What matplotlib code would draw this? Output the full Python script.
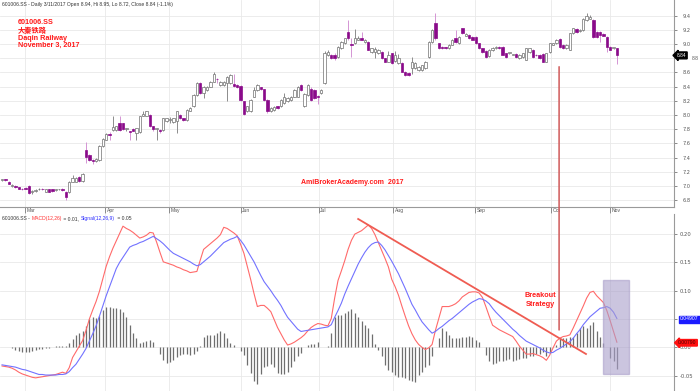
import numpy as np
import matplotlib
matplotlib.use('Agg')
import matplotlib.pyplot as plt
from matplotlib.patches import Rectangle, ConnectionPatch

# daily candles, 601006.SS
opens = [7.08, 7.09, 7.06, 7.00, 7.00, 6.98, 6.96, 6.97, 7.00, 6.91,
         6.93, 6.95, 6.96, 6.92, 6.95, 6.95, 6.94, 6.95, 6.96, 6.92,
         6.92, 7.06, 7.06, 7.13, 7.07, 7.50, 7.44, 7.36, 7.35, 7.36,
         7.56, 7.65, 7.73, 7.79, 7.79, 7.88, 7.88, 7.80, 7.77, 7.80,
         7.75, 7.76, 7.99, 7.99, 8.00, 7.84, 7.80, 7.79, 7.79, 7.91,
         7.93, 7.90, 7.91, 8.00, 7.95, 7.93, 8.06, 8.12, 8.28, 8.45,
         8.31, 8.35, 8.40, 8.47, 8.51, 8.42, 8.42, 8.45, 8.45, 8.43,
         8.42, 8.41, 8.19, 8.05, 8.05, 8.26, 8.35, 8.39, 8.36, 8.21,
         8.05, 8.07, 8.12, 8.12, 8.17, 8.19, 8.21, 8.26, 8.26, 8.42,
         8.12, 8.28, 8.37, 8.35, 8.27, 8.31, 8.45, 8.85, 8.85, 8.85,
         8.82, 8.94, 9.01, 9.17, 9.00, 9.02, 9.06, 9.09, 9.03, 9.03,
         8.89, 8.89, 8.87, 8.89, 8.80, 8.75, 8.87, 8.76, 8.73, 8.73,
         8.61, 8.59, 8.66, 8.66, 8.63, 8.63, 8.66, 8.82, 9.03, 9.29,
         9.01, 8.96, 8.95, 8.94, 8.99, 9.08, 9.01, 9.22, 9.12, 9.13,
         9.10, 9.10, 9.01, 8.94, 8.90, 8.83, 8.91, 8.94, 8.96, 8.96,
         8.87, 8.87, 8.85, 8.86, 8.80, 8.82, 8.78, 8.89, 8.92, 8.85,
         8.85, 8.86, 8.75, 8.89, 8.99, 9.01, 9.07, 8.99, 8.94, 8.92,
         9.15, 9.21, 9.18, 9.20, 9.34, 9.36, 9.34, 9.17, 9.17, 9.14,
         9.10, 8.96, 8.94, 8.94]
closes = [7.09, 7.08, 7.03, 7.01, 6.98, 6.96, 6.95, 6.96, 6.90, 6.93,
          6.94, 6.96, 6.95, 6.95, 6.92, 6.93, 6.94, 6.95, 6.94, 6.84,
          7.06, 7.11, 7.11, 7.07, 7.17, 7.41, 7.37, 7.35, 7.38, 7.56,
          7.66, 7.73, 7.72, 7.83, 7.84, 7.79, 7.80, 7.80, 7.76, 7.78,
          7.81, 7.98, 8.02, 8.05, 7.84, 7.80, 7.80, 7.78, 7.95, 7.95,
          7.94, 7.95, 8.05, 7.95, 7.93, 8.07, 8.10, 8.28, 8.45, 8.31,
          8.40, 8.40, 8.47, 8.58, 8.50, 8.47, 8.47, 8.54, 8.56, 8.41,
          8.39, 8.21, 8.02, 8.12, 8.21, 8.35, 8.42, 8.36, 8.21, 8.05,
          8.10, 8.11, 8.10, 8.21, 8.26, 8.24, 8.26, 8.35, 8.40, 8.35,
          8.30, 8.42, 8.21, 8.24, 8.26, 8.35, 8.87, 8.89, 8.80, 8.80,
          8.96, 9.03, 9.08, 9.08, 8.99, 9.08, 9.09, 9.06, 9.06, 8.92,
          8.94, 8.93, 8.92, 8.80, 8.75, 8.85, 8.73, 8.85, 8.80, 8.61,
          8.56, 8.56, 8.75, 8.73, 8.68, 8.70, 8.75, 9.03, 9.20, 9.08,
          8.94, 8.94, 8.94, 8.99, 9.06, 9.03, 9.10, 9.15, 9.14, 9.08,
          9.06, 9.01, 8.94, 8.89, 8.82, 8.92, 8.95, 8.96, 8.94, 8.85,
          8.82, 8.87, 8.85, 8.82, 8.85, 8.87, 8.94, 8.94, 8.82, 8.84,
          8.80, 8.75, 8.87, 9.01, 9.01, 9.06, 8.96, 8.94, 8.99, 9.15,
          9.22, 9.17, 9.20, 9.36, 9.39, 9.38, 9.10, 9.10, 9.13, 9.12,
          8.96, 8.92, 8.94, 8.84]
highs = [7.10, 7.10, 7.07, 7.03, 7.01, 6.99, 6.97, 6.98, 7.01, 6.94,
         6.95, 6.97, 6.97, 6.96, 6.96, 6.96, 6.95, 6.96, 6.97, 6.93,
         7.07, 7.15, 7.12, 7.14, 7.18, 7.62, 7.45, 7.38, 7.39, 7.57,
         7.67, 7.74, 7.76, 7.98, 7.85, 7.98, 7.89, 7.82, 7.78, 7.81,
         7.82, 7.99, 8.06, 8.06, 8.02, 7.85, 7.81, 7.80, 7.96, 7.96,
         7.97, 7.96, 8.06, 8.01, 7.96, 8.08, 8.11, 8.29, 8.46, 8.46,
         8.41, 8.41, 8.48, 8.60, 8.52, 8.48, 8.48, 8.55, 8.58, 8.58,
         8.43, 8.42, 8.20, 8.13, 8.22, 8.40, 8.44, 8.40, 8.37, 8.22,
         8.11, 8.12, 8.13, 8.22, 8.31, 8.25, 8.27, 8.36, 8.41, 8.43,
         8.31, 8.43, 8.40, 8.36, 8.28, 8.36, 8.90, 8.92, 8.86, 8.87,
         8.97, 9.04, 9.09, 9.34, 9.08, 9.21, 9.12, 9.17, 9.07, 9.04,
         8.95, 8.96, 8.93, 8.90, 8.81, 8.90, 8.88, 8.90, 8.86, 8.74,
         8.62, 8.60, 8.82, 8.74, 8.69, 8.71, 8.76, 9.04, 9.21, 9.44,
         9.02, 8.97, 8.96, 9.00, 9.07, 9.20, 9.11, 9.23, 9.16, 9.14,
         9.11, 9.11, 9.02, 8.95, 8.91, 8.93, 8.96, 8.97, 8.97, 8.97,
         8.88, 8.88, 8.86, 8.87, 8.86, 8.88, 8.95, 8.95, 8.93, 8.86,
         8.86, 8.87, 8.88, 9.02, 9.02, 9.07, 9.08, 9.00, 9.00, 9.16,
         9.23, 9.22, 9.21, 9.37, 9.44, 9.41, 9.35, 9.18, 9.18, 9.15,
         9.11, 8.97, 8.95, 8.95]
lows = [7.07, 7.07, 7.02, 6.99, 6.97, 6.95, 6.94, 6.95, 6.89, 6.88,
        6.92, 6.94, 6.94, 6.91, 6.91, 6.92, 6.93, 6.94, 6.93, 6.80,
        6.90, 7.05, 7.05, 7.06, 7.06, 7.32, 7.35, 7.31, 7.34, 7.35,
        7.55, 7.64, 7.65, 7.78, 7.78, 7.78, 7.79, 7.77, 7.65, 7.77,
        7.64, 7.75, 7.98, 7.98, 7.83, 7.78, 7.65, 7.74, 7.78, 7.90,
        7.88, 7.89, 7.75, 7.94, 7.92, 7.92, 8.05, 8.11, 8.27, 8.30,
        8.24, 8.34, 8.39, 8.46, 8.45, 8.41, 8.41, 8.20, 8.44, 8.40,
        8.38, 8.20, 8.00, 8.04, 8.04, 8.25, 8.34, 8.35, 8.20, 8.03,
        8.04, 8.06, 8.09, 8.11, 8.16, 8.18, 8.20, 8.25, 8.25, 8.34,
        8.11, 8.27, 8.20, 8.23, 8.15, 8.30, 8.44, 8.83, 8.79, 8.78,
        8.81, 8.93, 9.00, 9.05, 8.82, 9.00, 9.05, 9.05, 9.02, 8.91,
        8.88, 8.80, 8.86, 8.79, 8.74, 8.74, 8.72, 8.75, 8.72, 8.60,
        8.55, 8.55, 8.58, 8.65, 8.62, 8.62, 8.65, 8.81, 9.02, 9.06,
        8.93, 8.93, 8.93, 8.93, 8.98, 9.02, 9.00, 9.14, 9.11, 9.07,
        9.05, 9.00, 8.93, 8.88, 8.81, 8.82, 8.90, 8.93, 8.93, 8.84,
        8.81, 8.86, 8.84, 8.81, 8.79, 8.81, 8.77, 8.88, 8.81, 8.83,
        8.79, 8.74, 8.74, 8.88, 8.98, 9.00, 8.95, 8.93, 8.93, 8.91,
        9.14, 9.16, 9.17, 9.19, 9.33, 9.35, 9.09, 9.09, 9.03, 9.11,
        8.89, 8.91, 8.93, 8.72]

# MACD(12,26), signal(12,26,9), histogram
macd = [-0.033, -0.034, -0.035, -0.037, -0.040, -0.044, -0.047, -0.049, -0.051, -0.053,
        -0.054, -0.053, -0.052, -0.051, -0.050, -0.049, -0.048, -0.046, -0.044, -0.046,
        -0.036, -0.018, -0.008, 0.002, 0.012, 0.030, 0.050, 0.066, 0.081, 0.099,
        0.121, 0.143, 0.160, 0.175, 0.188, 0.201, 0.214, 0.210, 0.207, 0.203,
        0.198, 0.193, 0.195, 0.198, 0.203, 0.202, 0.186, 0.168, 0.151, 0.149,
        0.147, 0.145, 0.142, 0.140, 0.137, 0.135, 0.132, 0.133, 0.134, 0.154,
        0.173, 0.178, 0.183, 0.188, 0.193, 0.199, 0.212, 0.210, 0.206, 0.202,
        0.197, 0.182, 0.166, 0.143, 0.120, 0.095, 0.072, 0.074, 0.074, 0.069,
        0.063, 0.049, 0.035, 0.024, 0.013, 0.004, 0.006, 0.009, 0.013, 0.017,
        0.022, 0.029, 0.035, 0.039, 0.042, 0.041, 0.039, 0.038, 0.051, 0.087,
        0.118, 0.135, 0.153, 0.173, 0.189, 0.200, 0.203, 0.206, 0.211, 0.216,
        0.210, 0.199, 0.185, 0.171, 0.157, 0.142, 0.120, 0.107, 0.092, 0.073,
        0.055, 0.038, 0.024, 0.013, 0.005, 0.000, -0.004, -0.001, 0.005, 0.030,
        0.051, 0.072, 0.072, 0.072, 0.074, 0.077, 0.082, 0.089, 0.093, 0.097,
        0.098, 0.098, 0.096, 0.088, 0.072, 0.055, 0.039, 0.035, 0.031, 0.028,
        0.025, 0.022, 0.019, 0.011, 0.002, -0.005, -0.012, -0.012, -0.011, -0.013,
        -0.015, -0.018, -0.023, -0.014, -0.001, 0.011, 0.016, 0.019, 0.020, 0.022,
        0.034, 0.047, 0.060, 0.073, 0.087, 0.097, 0.099, 0.091, 0.085, 0.079,
        0.065, 0.047, 0.028, 0.009]
signal = [-0.031, -0.032, -0.033, -0.034, -0.035, -0.037, -0.039, -0.040, -0.042, -0.044,
          -0.046, -0.048, -0.048, -0.049, -0.049, -0.049, -0.049, -0.048, -0.048, -0.047,
          -0.043, -0.036, -0.030, -0.021, -0.012, -0.002, 0.011, 0.024, 0.038, 0.055,
          0.073, 0.091, 0.107, 0.123, 0.139, 0.150, 0.159, 0.168, 0.177, 0.180,
          0.182, 0.185, 0.187, 0.190, 0.193, 0.196, 0.192, 0.188, 0.183, 0.177,
          0.171, 0.166, 0.163, 0.160, 0.157, 0.154, 0.151, 0.147, 0.144, 0.146,
          0.151, 0.156, 0.161, 0.167, 0.173, 0.179, 0.185, 0.188, 0.191, 0.193,
          0.196, 0.189, 0.181, 0.171, 0.161, 0.151, 0.139, 0.127, 0.116, 0.108,
          0.100, 0.091, 0.083, 0.074, 0.063, 0.053, 0.046, 0.039, 0.032, 0.028,
          0.029, 0.030, 0.031, 0.032, 0.033, 0.034, 0.035, 0.036, 0.040, 0.053,
          0.065, 0.078, 0.094, 0.108, 0.121, 0.134, 0.147, 0.158, 0.168, 0.176,
          0.182, 0.185, 0.186, 0.180, 0.172, 0.162, 0.152, 0.141, 0.130, 0.117,
          0.104, 0.090, 0.076, 0.066, 0.055, 0.045, 0.038, 0.031, 0.025, 0.028,
          0.033, 0.037, 0.042, 0.047, 0.051, 0.056, 0.061, 0.066, 0.071, 0.076,
          0.080, 0.083, 0.086, 0.085, 0.082, 0.077, 0.069, 0.062, 0.056, 0.050,
          0.044, 0.038, 0.032, 0.027, 0.021, 0.016, 0.011, 0.008, 0.005, 0.002,
          -0.001, -0.005, -0.008, -0.010, -0.009, -0.005, -0.002, 0.002, 0.006, 0.010,
          0.016, 0.024, 0.031, 0.040, 0.047, 0.054, 0.059, 0.064, 0.069, 0.070,
          0.072, 0.069, 0.062, 0.051]
hist = [0.001, 0.001, 0.000, -0.001, -0.004, -0.007, -0.008, -0.008, -0.008, -0.007,
        -0.004, -0.003, -0.003, -0.002, -0.001, 0.001, 0.002, 0.002, 0.002, 0.002,
        0.008, 0.015, 0.022, 0.026, 0.028, 0.038, 0.050, 0.054, 0.052, 0.056,
        0.066, 0.071, 0.071, 0.069, 0.070, 0.067, 0.063, 0.053, 0.040, 0.025,
        0.017, 0.008, 0.010, 0.012, 0.013, 0.010, 0.000, -0.011, -0.023, -0.028,
        -0.026, -0.022, -0.018, -0.014, -0.011, -0.012, -0.013, -0.012, -0.007, 0.003,
        0.018, 0.022, 0.022, 0.022, 0.025, 0.028, 0.026, 0.016, 0.007, 0.004,
        0.000, -0.007, -0.014, -0.031, -0.046, -0.060, -0.064, -0.048, -0.034, -0.033,
        -0.030, -0.034, -0.045, -0.048, -0.047, -0.043, -0.034, -0.024, -0.015, -0.010,
        0.001, 0.004, 0.006, 0.005, 0.010, 0.000, 0.001, 0.002, 0.026, 0.054,
        0.057, 0.057, 0.060, 0.065, 0.067, 0.061, 0.054, 0.047, 0.040, 0.034,
        0.024, 0.006, -0.004, -0.016, -0.031, -0.040, -0.043, -0.049, -0.052, -0.052,
        -0.055, -0.057, -0.060, -0.061, -0.049, -0.043, -0.035, -0.031, -0.016, 0.000,
        0.016, 0.034, 0.028, 0.022, 0.016, 0.016, 0.017, 0.019, 0.019, 0.020,
        0.019, 0.013, 0.010, 0.000, -0.014, -0.025, -0.029, -0.028, -0.024, -0.024,
        -0.023, -0.021, -0.024, -0.022, -0.020, -0.019, -0.019, -0.016, -0.016, -0.012,
        -0.011, -0.008, -0.016, -0.008, 0.000, 0.004, 0.016, 0.017, 0.016, 0.019,
        0.019, 0.025, 0.034, 0.038, 0.034, 0.040, 0.045, 0.028, 0.019, 0.008,
        0.000, -0.019, -0.025, -0.039]

months = ['Mar', 'Apr', 'May', 'Jun', 'Jul', 'Aug', 'Sep', 'Oct', 'Nov']
month_pos = [6.85, 30.65, 49.7, 71.1, 94.3, 116.4, 140.8, 163.4, 181.0]
price_ticks = [6.8, 7.0, 7.2, 7.4, 7.6, 7.8, 8.0, 8.2, 8.4, 8.6, 8.8, 9.0, 9.2, 9.4]
macd_ticks = [-0.05, 0.0, 0.05, 0.10, 0.15, 0.20]

# annotation anchors (bar index, value)
trend_start = (106, 0.2267)
trend_end = (173.8, -0.0118)
arrow_top = (165.8, 8.68)
arrow_bottom = (165.8, 0.0306)
box_x = (179.0, 186.5)
box_y = (-0.0477, 0.119)

SANS = 'Liberation Sans'
GRID = '#e9e9e9'

fig = plt.figure(figsize=(7, 3.91), dpi=100)
ax1 = fig.add_axes([0, 184 / 391, 674 / 700, 207 / 391])
ax2 = fig.add_axes([0, 0, 674 / 700, 177 / 391])

x = np.arange(len(opens))
o = np.array(opens)
c = np.array(closes)
h = np.array(highs)
l = np.array(lows)
up = c >= o

# candles
ax1.vlines(x[up], l[up], h[up], color='#8c8c8c', lw=0.7, zorder=2)
ax1.vlines(x[~up], l[~up], h[~up], color='#d494d4', lw=0.7, zorder=2)
body_lo = np.minimum(o, c)
body_h = np.maximum(np.abs(c - o), 0.012)
ax1.bar(x[up], body_h[up], bottom=body_lo[up], width=0.7, facecolor='white',
        edgecolor='#707070', linewidth=0.5, zorder=3)
ax1.bar(x[~up], body_h[~up], bottom=body_lo[~up], width=0.7, facecolor='#8a0a8a',
        edgecolor='#8a0a8a', linewidth=0.5, zorder=3)

ax1.set_xlim(-0.6, 200)
ax1.set_ylim(6.702, 9.621)
ax1.set_yticks(price_ticks)
# the 8.8 label is pushed right by the last-price tag
ax1.set_yticklabels(['' if abs(t - 8.8) < 1e-6 else '%.1f' % t for t in price_ticks])
ax1.yaxis.tick_right()
ax1.tick_params(axis='y', labelsize=3.6, labelcolor='#555555', length=2.5,
                width=0.6, color='#777777', pad=4)
ax1.text(1.027, 8.8, '8.8', transform=ax1.get_yaxis_transform(), va='center',
         ha='left', fontsize=3.6, color='#555555', family=SANS, clip_on=False)
ax1.set_xticks(month_pos)
ax1.set_xticklabels([])
ax1.tick_params(axis='x', length=4, width=0.6, color='#777777', direction='out')
ax1.grid(axis='y', color=GRID, lw=0.6)
ax1.set_axisbelow(True)
for p, m in zip(month_pos, months):
    ax1.axvline(p, color=GRID, lw=0.6, zorder=0)
    ax1.text(p + 0.45, -0.004, m, transform=ax1.get_xaxis_transform(), va='top',
             ha='left', fontsize=3.6, color='#555555', family=SANS)
for s in ['top', 'left']:
    ax1.spines[s].set_visible(False)
ax1.spines['right'].set_color('#9a9a9a')
ax1.spines['bottom'].set_color('#9a9a9a')

# MACD panel
ax2.vlines(x, 0, hist, color='#6e6e6e', lw=0.9, zorder=2)
ax2.plot(x, macd, color='#ff6a6a', lw=0.8, zorder=3)
ax2.plot(x, signal, color='#7272ff', lw=0.8, zorder=3)
ax2.plot([trend_start[0], trend_end[0]], [trend_start[1], trend_end[1]],
         color='#ef5c52', lw=1.3, zorder=4)
ax2.add_patch(Rectangle((box_x[0], box_y[0]), box_x[1] - box_x[0], box_y[1] - box_y[0],
                        facecolor='#a99fca', edgecolor='#a99fca', alpha=0.6, zorder=5))
ax2.set_xlim(-0.6, 200)
ax2.set_ylim(-0.0772, 0.2355)
ax2.set_yticks(macd_ticks)
# 0.05 sits under the signal tag in the original
ax2.set_yticklabels(['' if abs(t - 0.05) < 1e-6 else '%.2f' % t for t in macd_ticks])
ax2.yaxis.tick_right()
ax2.tick_params(axis='y', labelsize=3.8, labelcolor='#555555', length=2.5,
                width=0.6, color='#777777', pad=1.5)
ax2.set_xticks([])
ax2.grid(axis='y', color=GRID, lw=0.6)
ax2.set_axisbelow(True)
for p in month_pos:
    ax2.axvline(p, color=GRID, lw=0.6, zorder=0)
for s in ['top', 'left', 'bottom']:
    ax2.spines[s].set_visible(False)
ax2.spines['right'].set_color('#9a9a9a')

# breakout marker spanning both panels
con = ConnectionPatch(xyA=arrow_top, coordsA=ax1.transData,
                      xyB=arrow_bottom, coordsB=ax2.transData,
                      color='#d05a5a', lw=1.1, zorder=6)
fig.add_artist(con)

# last-value tags
ax1.text(1.004, closes[-1], '%.2f' % closes[-1], transform=ax1.get_yaxis_transform(),
         va='center', ha='left', fontsize=3.4, color='white', family=SANS, clip_on=False,
         bbox=dict(boxstyle='larrow,pad=0.2', fc='black', ec='black'))
ax2.text(1.009, signal[-1] - 0.001, '0.04907', transform=ax2.get_yaxis_transform(),
         va='center', ha='left', fontsize=3.6, color='white', family=SANS, clip_on=False,
         bbox=dict(boxstyle='square,pad=0.2', fc='#1a1aff', ec='#1a1aff'))
ax2.text(1.006, macd[-1] - 0.001, '0.00790', transform=ax2.get_yaxis_transform(),
         va='center', ha='left', fontsize=3.6, color='#4a0000', family=SANS, clip_on=False,
         bbox=dict(boxstyle='larrow,pad=0.15', fc='#ff1010', ec='#ff1010'))

# header texts
fig.text(2 / 700, 1 - 4.5 / 391,
         '601006.SS - Daily 3/11/2017 Open 8.94, Hi 8.95, Lo 8.72, Close 8.84 (-1.1%)',
         fontsize=3.6, color='#333333', va='center', family=SANS)

# MACD title in coloured pieces, each placed after the previous one
renderer = fig.canvas.get_renderer()
macd_title = [('601006.SS - ', '#333333'), ('MACD(12,26)', '#ff3030'),
              (' = 0.01, ', '#333333'), ('Signal(12,26,9)', '#3030ff'),
              (' = 0.05', '#333333')]
px = 1.7
for txt, col in macd_title:
    t = fig.text(px / 700, 1 - 220 / 391, txt, fontsize=3.6, color=col,
                 va='baseline', ha='left', family=SANS)
    px = t.get_window_extent(renderer).x1 + 0.6

red = dict(color='#ff1a1a', fontweight='bold', fontsize=5.2, va='center')
fig.text(18 / 700, 1 - 22 / 391, '601006.SS', family=SANS, **red)
fig.text(18 / 700, 1 - 30 / 391, '大秦铁路', family=['Noto Sans CJK SC', 'DejaVu Sans'], **red)
fig.text(18 / 700, 1 - 38 / 391, 'Daqin Railway', family=SANS, **red)
fig.text(18 / 700, 1 - 45.5 / 391, 'November 3, 2017', family=SANS, **red)
fig.text(301 / 700, 1 - 183 / 391, 'AmiBrokerAcademy.com  2017', family=SANS,
         color='#ff1a1a', fontweight='bold', fontsize=5.0, va='center')
fig.text(540 / 700, 1 - 300 / 391, 'Breakout\nStrategy', family=SANS, color='#ff1a1a',
         fontweight='bold', fontsize=5.2, va='center', ha='center', linespacing=1.3)

fig.savefig('out.png', dpi=100)
